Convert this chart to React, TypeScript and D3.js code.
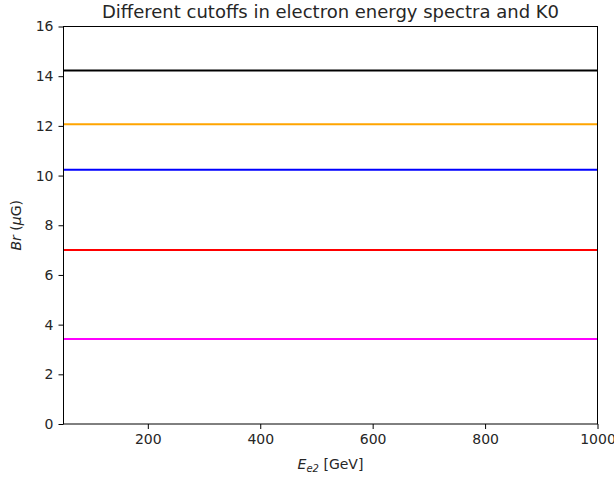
import React, { useEffect, useRef } from 'react';
import * as d3 from 'd3';

// cutoff levels (B field values), one horizontal line each
const levels = [14.23, 12.07, 10.23, 7.0, 3.42];
const colors = ['black', 'orange', 'blue', 'red', 'magenta'];
const xTicks = [200, 400, 600, 800, 1000];
const yTicks = [0, 2, 4, 6, 8, 10, 12, 14, 16];
const xDomain = [50, 1000];

const App = () => {
  const ref = useRef<SVGSVGElement>(null);

  useEffect(() => {
    const svg = d3.select(ref.current);
    svg.selectAll('*').remove();

    const width = 614;
    const height = 477;
    const m = { left: 63.5, right: 597.5, top: 26.5, bottom: 424 };

    const x = d3.scaleLinear().domain(xDomain).range([m.left, m.right]);
    const y = d3.scaleLinear().domain([0, 16]).range([m.bottom, m.top]);

    svg.append('rect').attr('width', width).attr('height', height).attr('fill', 'white');

    // lines
    const line = d3.line<[number, number]>().x((d) => x(d[0])).y((d) => y(d[1]));
    levels.forEach((v, i) => {
      svg
        .append('path')
        .attr('d', line([[xDomain[0], v], [xDomain[1], v]]))
        .attr('stroke', colors[i])
        .attr('stroke-width', 2)
        .attr('fill', 'none');
    });

    const font = 'DejaVu Sans, sans-serif';

    const xAxis = svg
      .append('g')
      .attr('transform', `translate(0,${m.bottom})`)
      .call(d3.axisBottom(x).tickValues(xTicks).tickSize(5).tickPadding(5).tickFormat(d3.format('d')));
    const yAxis = svg
      .append('g')
      .attr('transform', `translate(${m.left},0)`)
      .call(d3.axisLeft(y).tickValues(yTicks).tickSize(5).tickPadding(5).tickFormat(d3.format('d')));

    [xAxis, yAxis].forEach((a) => {
      a.select('.domain').remove();
      a.selectAll('line').attr('stroke', 'black').attr('stroke-width', 1);
      a.selectAll('text').attr('fill', '#262626').style('font-family', font).style('font-size', '14px');
    });

    // frame
    svg
      .append('rect')
      .attr('x', m.left)
      .attr('y', m.top)
      .attr('width', m.right - m.left)
      .attr('height', m.bottom - m.top)
      .attr('fill', 'none')
      .attr('stroke', 'black')
      .attr('stroke-width', 1);

    // title
    svg
      .append('text')
      .attr('x', (m.left + m.right) / 2)
      .attr('y', 17.5)
      .attr('text-anchor', 'middle')
      .style('font-family', font)
      .style('font-size', '18px')
      .attr('fill', '#262626')
      .text('Different cutoffs in electron energy spectra and K0');

    // x label
    const xl = svg
      .append('text')
      .attr('x', (m.left + m.right) / 2)
      .attr('y', 469)
      .attr('text-anchor', 'middle')
      .style('font-family', font)
      .style('font-size', '14px')
      .attr('fill', '#262626');
    xl.append('tspan').style('font-style', 'italic').text('E');
    xl.append('tspan').style('font-style', 'italic').style('font-size', '10px').attr('dy', 3).text('e2');
    xl.append('tspan').attr('dy', -3).text(' [GeV]');

    // y label
    const yl = svg
      .append('text')
      .attr('transform', `translate(21,${(m.top + m.bottom) / 2}) rotate(-90)`)
      .attr('text-anchor', 'middle')
      .style('font-family', font)
      .style('font-size', '14px')
      .attr('fill', '#262626');
    yl.append('tspan').style('font-style', 'italic').text('Br');
    yl.append('tspan').text(' (');
    yl.append('tspan').style('font-style', 'italic').text('μ');
    yl.append('tspan').text('G)');
  }, []);

  return <svg ref={ref} width={614} height={477} style={{ position: 'absolute', left: 0, top: 0 }}></svg>;
};

export default App;
